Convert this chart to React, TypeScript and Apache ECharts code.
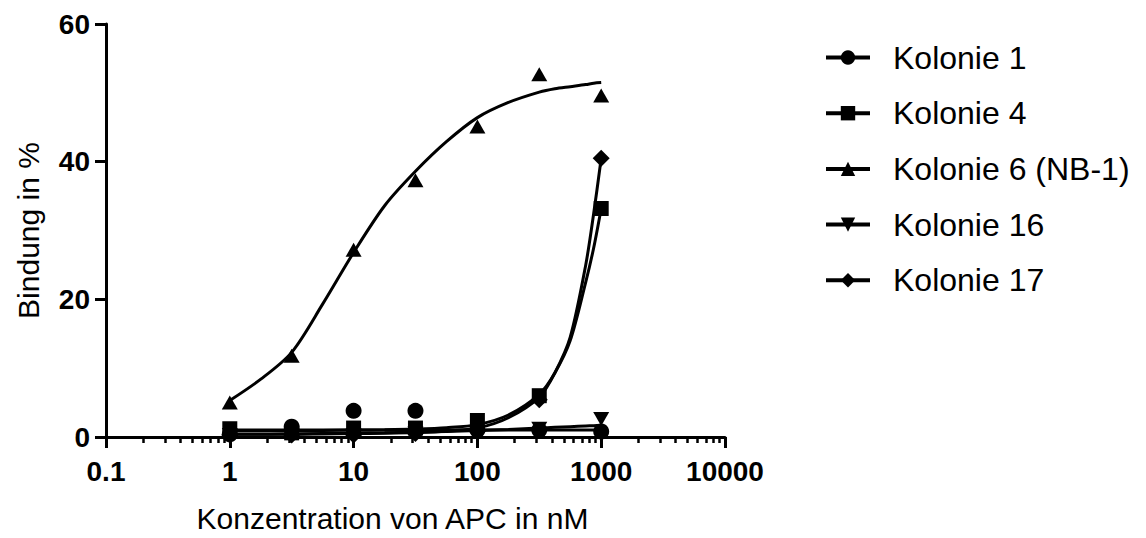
import React, { useEffect, useRef } from "react";
import * as echarts from "echarts";

const seriesNames = ["Kolonie 1", "Kolonie 4", "Kolonie 6 (NB-1)", "Kolonie 16", "Kolonie 17"];
const concentrations = [1, 3.16, 10, 31.6, 100, 316, 1000];

const kolonie1 = [0.4, 1.5, 3.8, 3.8, 1.0, 1.0, 0.8];
const kolonie4 = [1.2, 0.6, 1.3, 1.3, 2.4, 6.0, 33.2];
const kolonie6 = [5.0, 11.8, 27.2, 37.3, 45.1, 52.7, 49.6];
const kolonie16 = [0.3, 0.3, 0.3, 0.5, 0.6, 1.2, 2.6];
const kolonie17 = [0.3, 0.3, 0.3, 0.5, 0.8, 5.4, 40.5];

// fitted curves, values at these concentrations
const fitX = [1, 1.78, 3.16, 5.62, 10, 17.8, 31.6, 56.2, 100, 178, 316, 422, 562, 750, 870, 1000];
const fit1 = [1.0, 1.0, 1.0, 1.0, 1.0, 1.0, 1.0, 1.0, 1.0, 1.0, 1.0, 1.0, 1.0, 1.0, 1.0, 1.0];
const fit4 = [0.9, 0.9, 0.9, 0.95, 1.0, 1.05, 1.15, 1.35, 1.8, 3.2, 6.2, 9.3, 14, 22.5, 27.5, 33.2];
const fit6 = [5.3, 8.4, 12.3, 19.3, 26.8, 33.6, 38.6, 42.9, 46.4, 48.6, 50.1, 50.6, 50.9, 51.2, 51.4, 51.5];
const fit16 = [0.4, 0.4, 0.45, 0.5, 0.55, 0.6, 0.7, 0.8, 0.95, 1.1, 1.3, 1.4, 1.5, 1.6, 1.65, 1.7];
const fit17 = [0.4, 0.4, 0.4, 0.45, 0.5, 0.55, 0.65, 0.85, 1.3, 2.8, 5.8, 9.3, 14.5, 25, 32.5, 40.5];

const xTickLabels = ["0.1", "1", "10", "100", "1000", "10000"];
const minorTickValues = [
  0.2, 0.3, 0.4, 0.5, 0.6, 0.7, 0.8, 0.9,
  2, 3, 4, 5, 6, 7, 8, 9,
  20, 30, 40, 50, 60, 70, 80, 90,
  200, 300, 400, 500, 600, 700, 800, 900,
  2000, 3000, 4000, 5000, 6000, 7000, 8000, 9000,
];

const symbols = ["circle", "rect", "triangle", "triangle", "diamond"];
const symbolRotates = [0, 0, 0, 180, 0];
const symbolSizes: any[] = [16, 15, [16, 14], [16, 14], 17];

export default function App() {
  const ref = useRef<HTMLDivElement>(null);
  useEffect(() => {
    if (!ref.current) return;
    const chart = echarts.init(ref.current, null, { renderer: "svg" });
    const pointData = [kolonie1, kolonie4, kolonie6, kolonie16, kolonie17];
    const fitData = [fit1, fit4, fit6, fit16, fit17];
    const font = "Liberation Sans, Arial, Helvetica, sans-serif";

    const lineSeries = seriesNames.map((name, i) => ({
      name,
      type: "line",
      xAxisIndex: 0,
      data: fitX.map((x, j) => [x, fitData[i][j]]),
      smooth: 0.3,
      showSymbol: false,
      symbol: symbols[i],
      symbolRotate: symbolRotates[i],
      symbolSize: 14,
      lineStyle: { color: "#000", width: 3 },
      itemStyle: { color: "#000" },
      clip: false,
      z: 3,
    }));
    const pointSeries = seriesNames.map((name, i) => ({
      name,
      type: "scatter",
      xAxisIndex: 0,
      data: concentrations.map((x, j) => [x, pointData[i][j]]),
      symbol: symbols[i],
      symbolRotate: symbolRotates[i],
      symbolSize: symbolSizes[i],
      itemStyle: { color: "#000", opacity: 1 },
      clip: false,
      z: 4,
    }));

    chart.setOption({
      animation: false,
      backgroundColor: "#fff",
      textStyle: { fontFamily: font },
      grid: { left: 106, right: 421, top: 24, bottom: 100, containLabel: false },
      legend: {
        orient: "vertical",
        left: 819,
        top: 35,
        data: seriesNames,
        itemWidth: 44,
        itemHeight: 18,
        itemGap: 20.7,
        selectedMode: false,
        lineStyle: { width: 4, color: "#000" },
        itemStyle: { color: "#000" },
        textStyle: { fontSize: 32, color: "#000", lineHeight: 35, padding: [0, 0, 0, 18], fontFamily: font },
      },
      xAxis: [
        {
          type: "log",
          logBase: 10,
          min: 0.1,
          max: 10000,
          name: "Konzentration von APC in nM",
          nameLocation: "middle",
          nameGap: 66,
          nameTextStyle: { fontSize: 30, color: "#000", fontFamily: font, padding: [0, 46, 0, 0] },
          axisLine: { show: true, lineStyle: { color: "#000", width: 3 } },
          axisTick: { show: true, length: 11, lineStyle: { color: "#000", width: 3 } },
          axisLabel: {
            show: true,
            margin: 20,
            fontSize: 28,
            fontWeight: "bold",
            color: "#000",
            fontFamily: font,
            formatter: (v: number) => {
              let best = xTickLabels[0];
              let bd = Infinity;
              for (const l of xTickLabels) {
                const d = Math.abs(Math.log10(parseFloat(l)) - Math.log10(v));
                if (d < bd) { bd = d; best = l; }
              }
              return best;
            },
          },
          splitLine: { show: false },
        },
        {
          type: "log",
          logBase: 10,
          min: 0.1,
          max: 10000,
          position: "bottom",
          axisLine: { show: false },
          axisLabel: { show: false },
          axisTick: { show: true, length: 6, customValues: minorTickValues, lineStyle: { color: "#000", width: 2.5 } },
          splitLine: { show: false },
        },
      ],
      yAxis: {
        type: "value",
        min: 0,
        max: 60,
        interval: 20,
        name: "Bindung in %",
        nameLocation: "middle",
        nameGap: 63,
        nameTextStyle: { fontSize: 30, color: "#000", fontFamily: font },
        axisLine: { show: true, lineStyle: { color: "#000", width: 3 } },
        axisTick: { show: true, length: 11, lineStyle: { color: "#000", width: 3 } },
        axisLabel: { margin: 16, fontSize: 28, fontWeight: "bold", color: "#000", fontFamily: font },
        splitLine: { show: false },
      },
      series: [...lineSeries, ...pointSeries],
    });
    return () => chart.dispose();
  }, []);
  return (
    <div
      ref={ref}
      style={{ position: "fixed", left: 0, top: 0, width: 1146, height: 538, background: "#fff" }}
    />
  );
}
